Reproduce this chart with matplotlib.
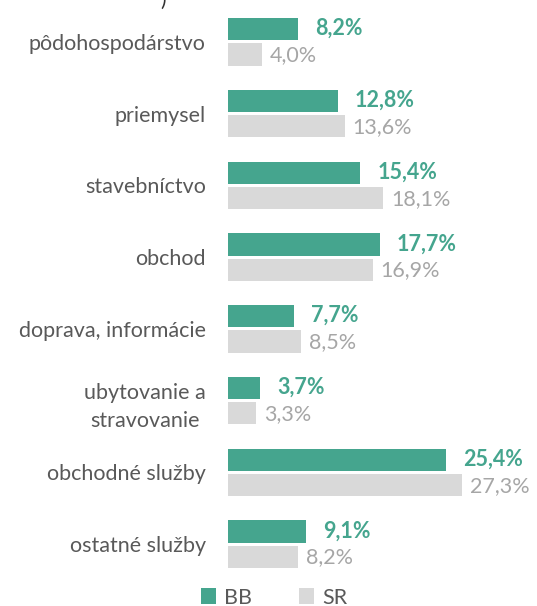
import matplotlib.pyplot as plt
import numpy as np

plt.rcParams['font.family'] = ['Lato', 'DejaVu Sans']

categories = ['pôdohospodárstvo', 'priemysel', 'stavebníctvo', 'obchod',
              'doprava, informácie', 'ubytovanie a\nstravovanie',
              'obchodné služby', 'ostatné služby']
bb = [8.2, 12.8, 15.4, 17.7, 7.7, 3.7, 25.4, 9.1]
sr = [4.0, 13.6, 18.1, 16.9, 8.5, 3.3, 27.3, 8.2]

green = '#45A58E'
grey = '#D9D9D9'

fig = plt.figure(figsize=(5.37, 6.06), dpi=100)
ax = fig.add_axes([228 / 537, 26 / 606, (537 - 228) / 537, 574 / 606])

y = np.arange(len(categories))
h = 0.31
ax.barh(y - h / 2 - 0.02, bb, height=h, color=green, label='BB')
ax.barh(y + h / 2 + 0.02, sr, height=h, color=grey, label='SR')

for i in range(len(categories)):
    ax.text(bb[i] + 2.0, y[i] - h / 2 - 0.03, f'{bb[i]:.1f}%'.replace('.', ','),
            color=green, fontweight='bold', fontsize=15.5, va='center')
    ax.text(sr[i] + 0.9, y[i] + h / 2 + 0.03, f'{sr[i]:.1f}%'.replace('.', ','),
            color='#A6A6A6', fontsize=15.5, va='center')

ax.set_xlim(0, 36)
ax.set_ylim(7.5, -0.5)
ax.set_yticks(y)
ax.set_yticklabels(categories, fontsize=15.5, color='#595959', ha='right',
                   multialignment='center', linespacing=1.5)
ax.tick_params(axis='y', length=0, pad=16)
ax.set_xticks([])
for s in ax.spines.values():
    s.set_visible(False)

fig.legend(loc='center left', bbox_to_anchor=(182 / 537, 0.014), ncol=2,
           frameon=False, fontsize=15.5, handlelength=0.7, handleheight=0.7,
           columnspacing=2.2, handletextpad=0.35, labelcolor='#595959')

fig.text(160 / 537, 1.0, ')', fontsize=15, color='#333333', va='center')

fig.savefig('out.png', dpi=100)
